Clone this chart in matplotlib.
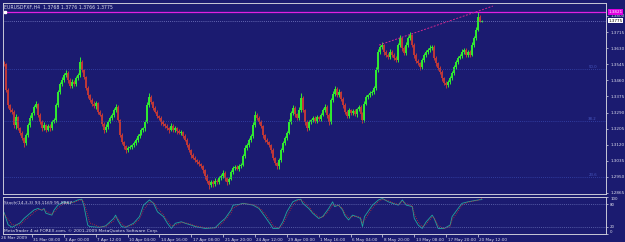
import numpy as np
import matplotlib.pyplot as plt
from matplotlib.transforms import blended_transform_factory, ScaledTranslation

# EURUSD H4 bars (bar 0 = 26 Mar 2009 20:00)
first_open = 1.3520
closes = [
    1.3536, 1.3551, 1.3546, 1.3409, 1.3330, 1.3303, 1.3293, 1.3224, 1.3266, 1.3208,
    1.3182, 1.3155, 1.3129, 1.3171, 1.3224, 1.3261, 1.3287, 1.3319, 1.3335, 1.3277,
    1.3240, 1.3208, 1.3224, 1.3198, 1.3219, 1.3208, 1.3240, 1.3250, 1.3330, 1.3398,
    1.3440, 1.3462, 1.3488, 1.3499, 1.3462, 1.3430, 1.3451, 1.3440, 1.3472, 1.3488,
    1.3557, 1.3514, 1.3477, 1.3419, 1.3382, 1.3356, 1.3335, 1.3324, 1.3340, 1.3293,
    1.3277, 1.3229, 1.3198, 1.3213, 1.3240, 1.3261, 1.3277, 1.3303, 1.3319, 1.3250,
    1.3171, 1.3134, 1.3113, 1.3092, 1.3103, 1.3108, 1.3118, 1.3129, 1.3145, 1.3166,
    1.3177, 1.3198, 1.3208, 1.3240, 1.3330, 1.3372, 1.3345, 1.3314, 1.3293, 1.3271,
    1.3261, 1.3240, 1.3229, 1.3219, 1.3208, 1.3198, 1.3219, 1.3198, 1.3208, 1.3192,
    1.3182, 1.3187, 1.3166, 1.3145, 1.3118, 1.3092, 1.3066, 1.3050, 1.3039, 1.3029,
    1.3018, 1.3008, 1.2986, 1.2955, 1.2928, 1.2907, 1.2923, 1.2912, 1.2928, 1.2923,
    1.2944, 1.2955, 1.2971, 1.2944, 1.2923, 1.2939, 1.2976, 1.2997, 1.3002, 1.2992,
    1.3008, 1.3013, 1.3060, 1.3103, 1.3118, 1.3145, 1.3166, 1.3224, 1.3277, 1.3261,
    1.3240, 1.3219, 1.3171, 1.3145, 1.3134, 1.3118, 1.3092, 1.3050, 1.3023, 1.3008,
    1.3039, 1.3092, 1.3129, 1.3155, 1.3182, 1.3240, 1.3287, 1.3314, 1.3282, 1.3261,
    1.3303, 1.3367, 1.3303, 1.3240, 1.3208, 1.3240, 1.3250, 1.3261, 1.3245, 1.3266,
    1.3256, 1.3277, 1.3303, 1.3319, 1.3277, 1.3240, 1.3356, 1.3388, 1.3414, 1.3382,
    1.3398, 1.3361, 1.3330, 1.3293, 1.3271, 1.3303, 1.3287, 1.3298, 1.3282, 1.3308,
    1.3319, 1.3282, 1.3250, 1.3335, 1.3372, 1.3382, 1.3393, 1.3398, 1.3419, 1.3514,
    1.3609, 1.3636, 1.3646, 1.3609, 1.3594, 1.3583, 1.3609, 1.3594, 1.3578, 1.3567,
    1.3646, 1.3683, 1.3631, 1.3604, 1.3646, 1.3683, 1.3699, 1.3646, 1.3594, 1.3562,
    1.3551, 1.3530, 1.3567, 1.3594, 1.3609, 1.3620, 1.3631, 1.3636, 1.3578, 1.3551,
    1.3525, 1.3504, 1.3472, 1.3446, 1.3435, 1.3451, 1.3472, 1.3499, 1.3530, 1.3557,
    1.3578, 1.3588, 1.3609, 1.3620, 1.3594, 1.3609, 1.3594, 1.3646, 1.3683, 1.3726,
    1.3795, 1.3768, 1.3775,
]
# wick lengths in pips above / below the body
upper_wicks = [
    12, 15, 10, 8, 10, 6, 12, 8, 14, 6, 8, 10, 6, 12, 10, 14, 8, 10, 16, 6,
    12, 8, 14, 6, 10, 8, 12, 10, 8, 12, 10, 14, 12, 16, 8, 10, 14, 8, 12, 10,
    28, 10, 8, 6, 12, 8, 10, 14, 10, 6, 12, 8, 10, 14, 8, 10, 12, 10, 16, 8,
    6, 10, 8, 6, 12, 10, 8, 12, 10, 8, 10, 12, 8, 10, 16, 22, 10, 8, 12, 10,
    8, 10, 12, 6, 10, 8, 14, 8, 12, 6, 10, 8, 6, 10, 8, 12, 6, 10, 8, 6,
    10, 8, 6, 8, 10, 6, 12, 8, 14, 10, 12, 10, 16, 8, 6, 12, 10, 8, 12, 10,
    8, 12, 10, 14, 10, 8, 12, 14, 20, 10, 8, 10, 6, 8, 10, 6, 8, 10, 6, 8,
    10, 12, 8, 10, 12, 14, 12, 18, 10, 8, 14, 24, 8, 6, 10, 12, 8, 10, 12, 10,
    8, 12, 10, 14, 8, 10, 12, 14, 18, 10, 16, 8, 10, 8, 12, 10, 8, 12, 10, 8,
    12, 8, 10, 14, 10, 8, 12, 10, 10, 16, 14, 12, 16, 8, 10, 12, 14, 10, 8, 10,
    12, 16, 8, 10, 14, 12, 18, 8, 10, 8, 10, 8, 12, 10, 12, 10, 14, 12, 8, 10,
    8, 10, 8, 6, 10, 12, 10, 12, 10, 8, 12, 10, 14, 10, 8, 12, 10, 14, 12, 16,
    27, 8, 1,
]
lower_wicks = [
    8, 10, 12, 10, 14, 8, 10, 18, 20, 10, 12, 10, 22, 10, 8, 12, 10, 8, 6, 10,
    12, 14, 10, 12, 8, 14, 10, 8, 12, 10, 8, 12, 10, 8, 14, 10, 12, 8, 10, 12,
    10, 8, 12, 10, 14, 10, 12, 8, 16, 10, 8, 12, 14, 10, 12, 8, 10, 12, 8, 10,
    12, 10, 14, 16, 10, 8, 12, 10, 8, 10, 12, 8, 10, 14, 8, 10, 12, 10, 8, 12,
    10, 14, 8, 12, 10, 16, 8, 12, 10, 14, 8, 12, 10, 8, 12, 10, 14, 8, 12, 10,
    10, 12, 14, 16, 12, 20, 10, 14, 8, 10, 8, 12, 10, 14, 16, 10, 8, 12, 10, 8,
    10, 12, 8, 10, 12, 8, 10, 8, 12, 10, 12, 10, 14, 10, 12, 8, 14, 10, 12, 16,
    14, 10, 8, 12, 10, 8, 12, 10, 14, 10, 8, 10, 12, 18, 14, 10, 12, 10, 8, 12,
    10, 12, 8, 10, 14, 16, 10, 8, 12, 10, 12, 10, 14, 10, 12, 10, 8, 12, 10, 14,
    10, 12, 16, 10, 8, 12, 10, 8, 12, 10, 8, 10, 12, 14, 10, 12, 8, 10, 12, 10,
    10, 12, 14, 10, 8, 12, 10, 12, 14, 10, 12, 16, 10, 8, 12, 10, 8, 10, 12, 14,
    10, 12, 14, 12, 18, 10, 12, 8, 10, 12, 10, 8, 12, 10, 12, 10, 12, 8, 10, 8,
    6, 2, 2,
]

price_ticks = [1.2865, 1.2950, 1.3035, 1.3120, 1.3205, 1.3290, 1.3375,
               1.3460, 1.3545, 1.3630, 1.3715, 1.3800]
time_tick_bars = [16, 32, 48, 64, 80, 96, 112, 128, 144, 160, 176, 192, 208, 224, 240]
time_tick_labels = ["31 Mar 08:00", "3 Apr 00:00", "7 Apr 12:00", "10 Apr 04:00",
                    "14 Apr 16:00", "17 Apr 08:00", "21 Apr 20:00", "24 Apr 12:00",
                    "29 Apr 00:00", "1 May 16:00", "6 May 04:00", "8 May 20:00",
                    "13 May 08:00", "17 May 20:00", "20 May 12:00"]

# Stoch(14,3,3) main / signal read at selected bars
stoch_bars = [1, 2, 4, 6, 10, 12, 17, 19, 21, 22, 23, 26, 27, 29, 32, 35, 37, 39, 41, 42,
              44, 45, 50, 53, 57, 58, 59, 61, 63, 67, 70, 72, 75, 77, 79, 82, 84, 86, 88, 91,
              93, 96, 98, 103, 108, 111, 113, 116, 117, 120, 122, 127, 130, 133, 136, 137, 140, 142, 144, 147,
              149, 151, 152, 155, 157, 160, 162, 165, 167, 168, 170, 172, 173, 175, 177, 179, 181, 182, 183, 187,
              190, 192, 195, 197, 200, 202, 204, 207, 208, 210, 212, 214, 217, 218, 220, 223, 226, 227, 230, 232,
              235, 237, 240, 242]
stoch_main = [52, 58, 25, 18, 30, 42, 65, 69, 64, 69, 56, 51, 64, 78, 87, 83, 87, 92, 94, 78,
              24, 20, 18, 22, 42, 51, 38, 20, 18, 29, 47, 78, 92, 83, 60, 47, 29, 15, 29, 33,
              29, 24, 20, 15, 17, 33, 42, 65, 78, 80, 83, 78, 69, 47, 24, 15, 15, 33, 60, 87,
              92, 94, 83, 69, 56, 42, 47, 69, 87, 74, 78, 65, 51, 38, 51, 47, 42, 20, 47, 78,
              92, 96, 87, 83, 78, 92, 78, 74, 42, 24, 15, 33, 51, 42, 15, 15, 24, 47, 69, 83,
              87, 89, 92, 93]
stoch_signal = [50, 54, 40, 25, 24, 35, 58, 66, 66, 67, 62, 54, 58, 70, 83, 84, 85, 89, 93, 87,
                50, 30, 19, 20, 35, 45, 43, 28, 20, 25, 40, 65, 86, 86, 70, 52, 36, 22, 24, 31,
                30, 26, 22, 17, 16, 26, 38, 57, 70, 79, 82, 80, 72, 55, 33, 22, 16, 26, 48, 78,
                89, 93, 89, 74, 60, 46, 45, 62, 80, 78, 77, 69, 57, 44, 47, 48, 45, 30, 38, 70,
                88, 94, 90, 85, 80, 88, 82, 76, 55, 32, 20, 27, 46, 45, 22, 15, 20, 38, 62, 78,
                86, 88, 91, 96]

hline_price = 1.3821
bid_price = 1.3775
trend_bars = [190.3, 247.5]
trend_prices = [1.3646, 1.3852]
fib_prices = [1.3520, 1.3245, 1.2950]
fib_labels = ["50.0", "38.2", "23.6"]

BG = '#1b1b70'
FRAME = '#c8c8d8'
TXT = '#dcdcec'
UP = '#30ec30'
DOWN = '#c03838'

W, H = 625, 242
def box(l, t, r, b):
    return [l / W, 1 - b / H, (r - l) / W, (b - t) / H]

fig = plt.figure(figsize=(6.25, 2.42), dpi=100)
fig.patch.set_facecolor(BG)
ax = fig.add_axes(box(3, 3, 606, 194))
axs = fig.add_axes(box(3, 197, 606, 234), sharex=ax)

for a in (ax, axs):
    a.set_facecolor(BG)
    for s in a.spines.values():
        s.set_color(FRAME)
        s.set_linewidth(0.7)

# candles
closes_a = np.array(closes)
opens_a = np.concatenate([[first_open], closes_a[:-1]])
bars = np.arange(len(closes_a))
highs = np.maximum(opens_a, closes_a) + np.array(upper_wicks) * 0.0001
lows = np.minimum(opens_a, closes_a) - np.array(lower_wicks) * 0.0001
cols = np.where(closes_a >= opens_a, UP, DOWN)
ax.vlines(bars, lows, highs, colors=cols, linewidth=0.7)
ax.vlines(bars, np.minimum(opens_a, closes_a), np.maximum(opens_a, closes_a),
          colors=cols, linewidth=1.4)

ax.set_xlim(1.44, 304.3)
ax.set_ylim(1.28597, 1.38682)

# level lines
for p, lab in zip(fib_prices, fib_labels):
    ax.axhline(p, color='#3848b0', linewidth=0.6, linestyle=(0, (1, 1.5)))
    ax.text(0.985, p, lab, transform=blended_transform_factory(ax.transAxes, ax.transData),
            ha='right', va='bottom', fontsize=2.8, color='#4858c0')
ax.axhline(bid_price, color='#7c80c8', linewidth=0.6, linestyle=(0, (1, 1.5)))
ax.axhline(hline_price, color='#e020e0', linewidth=0.9)
ax.plot([2.2], [hline_price], marker='s', markersize=1.6, color='white', clip_on=False)
ax.plot(trend_bars, trend_prices, color='#d02890', linewidth=0.7, linestyle=(0, (2, 1.5)))

# price axis on the right
ax.yaxis.tick_right()
ax.set_yticks(price_ticks)
ax.set_yticklabels([f"{p:.4f}" for p in price_ticks])
ax.tick_params(axis='y', length=1.5, width=0.5, colors=TXT, labelsize=3, pad=1.5)
ax.tick_params(axis='x', bottom=False, labelbottom=False)
tr = blended_transform_factory(ax.transAxes, ax.transData)
ax.text(1.004, hline_price, "1.3821", transform=tr, fontsize=3, color='white', va='center',
        ha='left', bbox=dict(facecolor='#e000e0', edgecolor='none', pad=0.6))
ax.text(1.004, bid_price, "1.3775", transform=tr, fontsize=3, color='black', va='center',
        ha='left', bbox=dict(facecolor='white', edgecolor='none', pad=0.6))

# stochastic panel
axs.plot(stoch_bars, stoch_main, color='#20a8a0', linewidth=0.6)
axs.plot(stoch_bars, stoch_signal, color='#d03030', linewidth=0.6, linestyle=(0, (1, 1.5)))
for lv in (80, 20):
    axs.axhline(lv, color='#6870b8', linewidth=0.5, linestyle=(0, (1.5, 1.5)))
axs.set_ylim(0, 100)
axs.yaxis.tick_right()
axs.set_yticks([100, 80, 20, 0])
axs.set_yticklabels(["100", "80", "20", "0"])
axs.tick_params(axis='y', length=1.5, width=0.5, colors=TXT, labelsize=2.8, pad=1.5)
ylabs = axs.get_yticklabels()
ylabs[0].set_va('top')
ylabs[3].set_va('bottom')

axs.set_xticks(time_tick_bars)
axs.set_xticklabels(time_tick_labels)
axs.tick_params(axis='x', length=2.5, width=0.5, colors=TXT, labelsize=3, pad=0.5)
offset = ScaledTranslation(1.5 / 100, 0, fig.dpi_scale_trans)
for lbl in axs.get_xticklabels():
    lbl.set_ha('left')
    lbl.set_transform(lbl.get_transform() + offset)

axs.text(0.002, 0.9, "Stoch(14,3,3) 93.1169 95.8887", transform=axs.transAxes,
         fontsize=3.2, color=TXT, va='top')
axs.text(0.002, 0.04, "MetaTrader 4 at FOREX.com, \u00a9 2001-2009 MetaQuotes Software Corp.",
         transform=axs.transAxes, fontsize=3.2, color=TXT, va='bottom')

fig.text(4 / W, 1 - 7 / H, "EURUSDFXF,H4  1.3768 1.3776 1.3766 1.3775",
         fontsize=3.3, color=TXT, va='center')
fig.text(1 / W, 1 - 238 / H, "26 Mar 2009", fontsize=3, color=TXT, va='center')

fig.savefig('out.png', dpi=100, facecolor=BG)
